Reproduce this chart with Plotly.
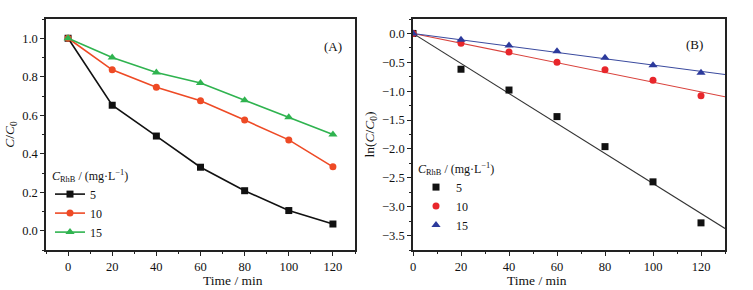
import numpy as np
import plotly.graph_objects as go

# ---- data ----
time = [0, 20, 40, 60, 80, 100, 120]
conc_labels = ["5", "10", "15"]
ratio_5 = [1.0, 0.652, 0.492, 0.330, 0.208, 0.105, 0.035]
ratio_10 = [1.0, 0.836, 0.745, 0.675, 0.575, 0.472, 0.332]
ratio_15 = [1.0, 0.900, 0.822, 0.768, 0.678, 0.590, 0.500]
ln_5 = [0.0, -0.62, -0.98, -1.44, -1.96, -2.57, -3.28]
ln_10 = [0.0, -0.17, -0.32, -0.50, -0.63, -0.81, -1.08]
ln_15 = [0.0, -0.11, -0.21, -0.31, -0.42, -0.55, -0.68]
fit_x_range = [0, 130]
x_title = "Time / min"

colorsA = ["#111111", "#ee4a25", "#2fb34f"]
colorsB = ["#111111", "#e8262b", "#2c3a9c"]
linecolB = ["#333333", "#d9423c", "#3a4a9e"]
symbols = ["square", "circle", "triangle-up"]

FONT = "Liberation Serif"
INK = "#111111"
fig = go.Figure()

for i, ys in enumerate([ratio_5, ratio_10, ratio_15]):
    fig.add_trace(go.Scatter(
        x=time, y=ys, mode="lines+markers", name=conc_labels[i],
        line=dict(color=colorsA[i], width=1.6),
        marker=dict(symbol=symbols[i], size=7 if i < 2 else 8, color=colorsA[i]),
        xaxis="x", yaxis="y", legend="legend"))

tx = np.array(time, dtype=float)
for i, ys in enumerate([ln_5, ln_10, ln_15]):
    ya = np.array(ys)
    k = float((tx * ya).sum() / (tx * tx).sum())
    fx = np.array(fit_x_range, dtype=float)
    fig.add_trace(go.Scatter(
        x=fx, y=k * fx, mode="lines", showlegend=False,
        line=dict(color=linecolB[i], width=1.1),
        xaxis="x2", yaxis="y2"))
for i, ys in enumerate([ln_5, ln_10, ln_15]):
    fig.add_trace(go.Scatter(
        x=time, y=ys, mode="markers", name=conc_labels[i],
        marker=dict(symbol=symbols[i], size=7 if i < 2 else 8, color=colorsB[i]),
        xaxis="x2", yaxis="y2", legend="legend2"))

tickfont = dict(family=FONT, size=12.5, color=INK)
titlefont = dict(family=FONT, size=13.5, color=INK)
common = dict(showline=True, linecolor="#222", linewidth=1.5, mirror=True,
              ticks="outside", ticklen=4, tickwidth=1.2, tickcolor="#222",
              showgrid=False, zeroline=False, tickfont=tickfont, automargin=False)

legfont = dict(family=FONT, size=12, color=INK)

xdomA = [46/753, 355/753]
xdomB = [413/753, 725/753]

fig.update_layout(
    width=753, height=290,
    margin=dict(l=0, r=0, t=0, b=0, autoexpand=False),
    paper_bgcolor="white", plot_bgcolor="white",
    xaxis=dict(domain=xdomA, range=[-10, 130], dtick=20, tick0=0,
               minor=dict(dtick=10, ticklen=2, ticks="outside", tickcolor="#222"),
               **common),
    yaxis=dict(domain=[1-250/290, 1-19/290], range=[-0.1, 1.1], dtick=0.2, tick0=0,
               tickformat=".1f",
               minor=dict(dtick=0.1, ticklen=2, ticks="outside", tickcolor="#222"),
               title=dict(text="<i>C</i>/<i>C</i><sub>0</sub>", font=titlefont, standoff=4),
               anchor="x", **common),
    xaxis2=dict(domain=xdomB, range=[0, 130], dtick=20, tick0=0,
                minor=dict(dtick=10, ticklen=2, ticks="outside", tickcolor="#222"),
                anchor="y2", **common),
    yaxis2=dict(domain=[1-250/290, 1-19/290], range=[-3.75, 0.25], dtick=0.5, tick0=0,
                tickformat=".1f",
                minor=dict(dtick=0.25, ticklen=2, ticks="outside", tickcolor="#222"),
                title=dict(text="ln(<i>C</i>/<i>C</i><sub>0</sub>)", font=titlefont, standoff=4),
                anchor="x2", **common),
    legend=dict(x=50/753, y=1-164/290, xanchor="left", yanchor="top",
                bgcolor="rgba(0,0,0,0)", itemwidth=30, tracegroupgap=0,
                font=legfont,
                title=dict(text="<i>C</i><sub>RhB</sub> / (mg·L<sup>−1</sup>)",
                           font=dict(family=FONT, size=12, color=INK))),
    legend2=dict(x=416/753, y=1-157/290, xanchor="left", yanchor="top",
                 bgcolor="rgba(0,0,0,0)", itemwidth=30, tracegroupgap=0,
                 font=legfont,
                 title=dict(text="<i>C</i><sub>RhB</sub> / (mg·L<sup>−1</sup>)",
                            font=dict(family=FONT, size=12, color=INK))),
    annotations=[
        dict(text="(A)", x=333/753, y=1-37/290, xref="paper", yref="paper",
             showarrow=False, font=dict(family=FONT, size=13, color=INK)),
        dict(text="(B)", x=705/753, y=1-35/290, xref="paper", yref="paper",
             showarrow=False, font=dict(family=FONT, size=13, color=INK)),
        dict(text=x_title, x=sum(xdomA)/2, y=1-280/290, xref="paper", yref="paper",
             yanchor="middle", showarrow=False, font=titlefont),
        dict(text=x_title, x=sum(xdomB)/2, y=1-280/290, xref="paper", yref="paper",
             yanchor="middle", showarrow=False, font=titlefont),
    ],
)

fig.write_html("out.html", config={"displayModeBar": False},
               post_script="document.body.style.margin='0px';")
